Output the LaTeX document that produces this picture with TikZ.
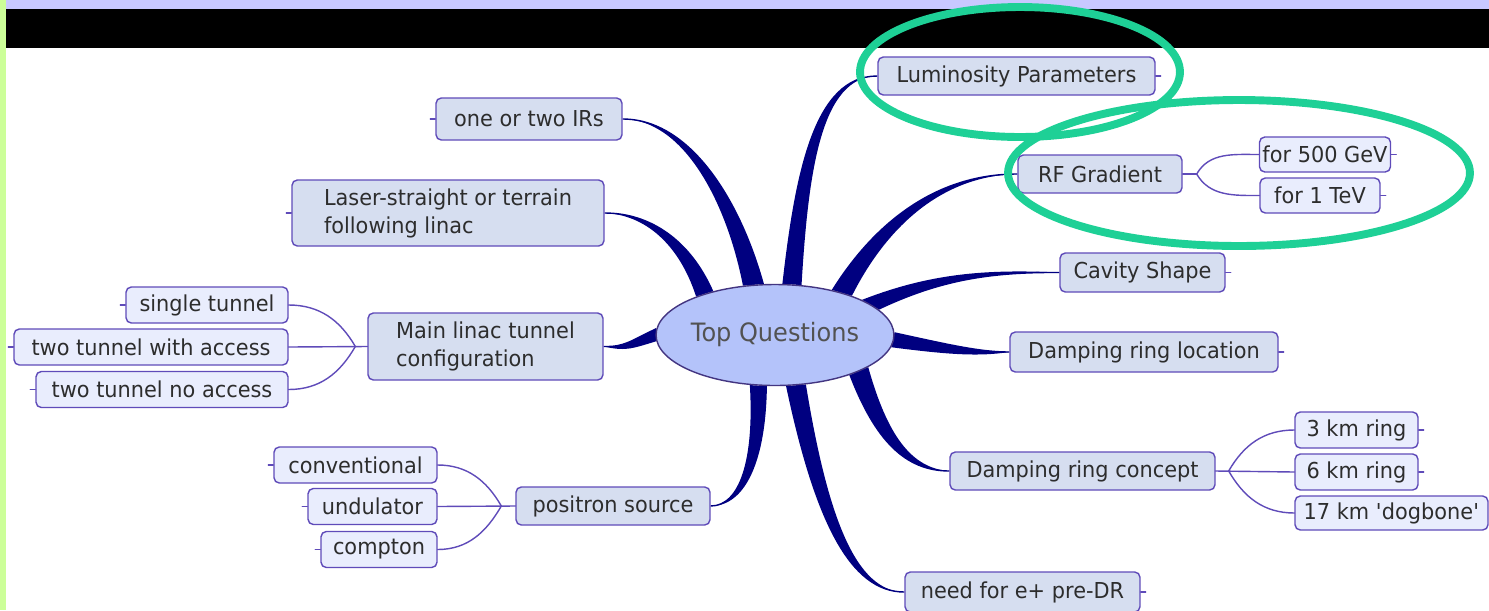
\documentclass[tikz,border=0pt]{standalone}
\usepackage{fontspec}
\setmainfont{DejaVu Sans}[FakeStretch=0.95]
\usepackage{xcolor}
\definecolor{Col1}{RGB}{0,0,128}
\definecolor{Col2}{RGB}{95,75,185}
\definecolor{Col3}{RGB}{214,222,240}
\definecolor{Col4}{RGB}{233,237,253}
\definecolor{Col5}{RGB}{180,195,250}
\definecolor{Col6}{RGB}{30,208,150}
\definecolor{Col7}{RGB}{200,200,255}
\definecolor{Col8}{RGB}{204,255,153}
\definecolor{Col9}{RGB}{45,45,45}
\usepackage{tikz}
\usetikzlibrary{shapes.geometric}
\usetikzlibrary{calc}
\usetikzlibrary{backgrounds}
\tikzstyle{Topic}=[rectangle,rounded corners=3pt,draw=Col2,fill=Col3,
line width=0.8pt,text=Col9,inner sep=0pt,
font=\fontsize{12.5}{16}\selectfont]
\tikzstyle{Leaf}=[Topic,fill=Col4]
\tikzstyle{Root}=[ellipse,draw=Col2!70!black,fill=Col5,line width=0.8pt,
text=black!68,inner sep=0pt,font=\fontsize{14.4}{17}\selectfont]
\tikzstyle{Trunk}=[fill=Col1]
\tikzstyle{Twig}=[draw=Col2,line width=0.8pt,cap=round]
\tikzstyle{Halo}=[draw=Col6,line width=4.5pt]
% tapered branch: #1,#2 root points, #3,#4 controls, #5 end
\newcommand{\Branch}[5]{%
    \coordinate(dB)at($(#2)-(#1)$);
    \fill[Trunk](#1).. controls (#3) and (#4) ..(#5)
        .. controls ($(#4)+0.33*(dB)$) and ($(#3)+0.67*(dB)$) ..(#2)--cycle;
    \draw[draw=Col1,line width=0.8pt](#1).. controls (#3) and (#4) ..(#5);}

\begin{document}
\begin{tikzpicture}[x=0.02cm,y=-0.02cm]
        \useasboundingbox(0,0)rectangle(1489,610);
        \fill[Col8](0,0)rectangle(6,610);
        \fill[Col7](6,0)rectangle(1489,9);
        \fill[black](6,9)rectangle(1489,48);
        % centre
        \node[Root,minimum width=4.6cm,minimum height=2.02cm](TQ)at(775,335)
            {Top Questions};
        % right side
        \node[Topic,minimum width=5.54cm,minimum height=0.76cm](Lum)
            at(1016.5,76){Luminosity Parameters};
        \node[Topic,minimum width=3.28cm,minimum height=0.76cm](RF)
            at(1100,174){RF Gradient};
        \node[Leaf,minimum width=2.62cm,minimum height=0.7cm](F500)
            at(1325,154.5){for 500 GeV};
        \node[Leaf,minimum width=2.4cm,minimum height=0.7cm](FTeV)
            at(1320,195.5){for 1 TeV};
        \node[Topic,minimum width=3.3cm,minimum height=0.78cm](Cav)
            at(1142.5,272.5){Cavity Shape};
        \node[Topic,minimum width=5.36cm,minimum height=0.8cm](DRL)
            at(1144,352){Damping ring location};
        \node[Topic,minimum width=5.3cm,minimum height=0.76cm](DRC)
            at(1082.5,471){Damping ring concept};
        \node[Leaf,minimum width=2.46cm,minimum height=0.72cm](K3)
            at(1356.5,430){3 km ring};
        \node[Leaf,minimum width=2.46cm,minimum height=0.72cm](K6)
            at(1356.5,472){6 km ring};
        \node[Leaf,minimum width=3.86cm,minimum height=0.68cm](K17)
            at(1391.5,513){17 km \textquotesingle dogbone\textquotesingle};
        \node[Topic,minimum width=4.7cm,minimum height=0.8cm](Need)
            at(1022.5,592){need for e+ pre-DR};
        % left side
        \node[Topic,minimum width=3.72cm,minimum height=0.84cm](IRs)
            at(529,119){one or two IRs};
        \node[Topic,minimum width=6.24cm,minimum height=1.32cm,align=left](Laser)
            at(448,213){Laser-straight or terrain\\following linac};
        \node[Topic,minimum width=4.7cm,minimum height=1.34cm,align=left](Main)
            at(485.5,346.5){Main linac tunnel\\configuration};
        \node[Leaf,minimum width=3.24cm,minimum height=0.72cm](Single)
            at(207,305){single tunnel};
        \node[Leaf,minimum width=5.48cm,minimum height=0.72cm](Access)
            at(151,347){two tunnel with access};
        \node[Leaf,minimum width=5.04cm,minimum height=0.72cm](NoAccess)
            at(162,389.5){two tunnel no access};
        \node[Topic,minimum width=3.88cm,minimum height=0.76cm](Pos)
            at(613,506){positron source};
        \node[Leaf,minimum width=3.26cm,minimum height=0.72cm](Conv)
            at(355.5,465){conventional};
        \node[Leaf,minimum width=2.58cm,minimum height=0.72cm](Und)
            at(372.5,506.5){undulator};
        \node[Leaf,minimum width=2.32cm,minimum height=0.72cm](Comp)
            at(379,549.5){compton};
        % thick branches
        \begin{scope}[on background layer]
        \Branch{TQ.81}{TQ.62}{796,170}{815,76}{Lum.west}
        \Branch{TQ.38}{TQ.27}{870,230}{930,174}{RF.west}
        \Branch{TQ.14}{TQ.22}{940,280}{990,272}{Cav.west}
        \Branch{TQ.1}{TQ.354}{950,345}{980,352}{DRL.west}
        \Branch{TQ.332}{TQ.341}{875,440}{905,471}{DRC.west}
        \Branch{TQ.283}{TQ.302}{815,520}{850,592}{Need.west}
        \Branch{TQ.244}{TQ.261}{755,460}{740,506}{Pos.east}
        \Branch{TQ.177}{TQ.183}{630,341}{625,347}{Main.east}
        \Branch{TQ.145}{TQ.154}{690,240}{650,213}{Laser.east}
        \Branch{TQ.103}{TQ.123}{740,200}{690,119}{IRs.east}
        \end{scope}
        % thin forks
        \coordinate(J1)at($(RF.east)+(14,0)$);
        \draw[Twig](RF.east)--(J1);
        \draw[Twig](J1)to[out=60,in=180](F500.west);
        \draw[Twig](J1)to[out=-60,in=180](FTeV.west);
        \coordinate(J2)at($(DRC.east)+(13,0)$);
        \draw[Twig](DRC.east)--(K6.west);
        \draw[Twig](J2)to[out=60,in=180](K3.west);
        \draw[Twig](J2)to[out=-60,in=180](K17.west);
        \coordinate(J3)at($(Main.west)+(-12,0)$);
        \draw[Twig](Main.west)--(Access.east);
        \draw[Twig](J3)to[out=120,in=0](Single.east);
        \draw[Twig](J3)to[out=-120,in=0](NoAccess.east);
        \coordinate(J4)at($(Pos.west)+(-14,0)$);
        \draw[Twig](Pos.west)--(Und.east);
        \draw[Twig](J4)to[out=120,in=0](Conv.east);
        \draw[Twig](J4)to[out=-120,in=0](Comp.east);
        % stubs
        \foreach \n in {Lum,F500,FTeV,Cav,DRL,K3,K6,Need}
            \draw[Twig](\n.east)--++(5,0);
        \foreach \n in {IRs,Laser,Single,Access,NoAccess,Conv,Und,Comp}
            \draw[Twig](\n.west)--++(-5,0);
        % highlights
        \draw[Halo](1020,72)ellipse[x radius=3.2cm,y radius=1.3cm];
        \draw[Halo](1239,173)ellipse[x radius=4.62cm,y radius=1.46cm];
    \end{tikzpicture}
\end{document}
